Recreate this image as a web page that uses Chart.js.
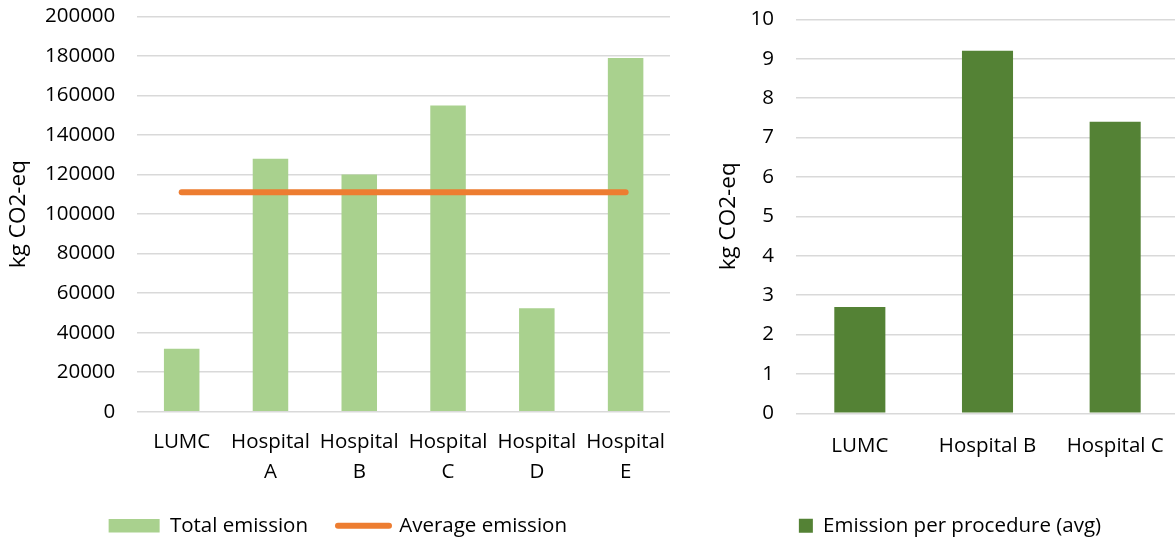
<!DOCTYPE html>
<html>
<head>
<meta charset="utf-8">
<script src="https://cdn.jsdelivr.net/npm/chart.js@4"></script>
<style>
  html, body { margin: 0; padding: 0; background: #fff; overflow: hidden; }
  body { width: 1175px; height: 540px; position: relative; }
  .box { position: absolute; top: 0; }
  #leftBox { left: 0; width: 676px; height: 546px; }
  #rightBox { left: 716px; width: 466px; height: 546px; }
</style>
</head>
<body>
<div class="box" id="leftBox"><canvas id="totalChart"></canvas></div>
<div class="box" id="rightBox"><canvas id="perProcChart"></canvas></div>
<script>
// Left chart: total emission per hospital with the average as a line
const hospitals = ['LUMC', ['Hospital', 'A'], ['Hospital', 'B'], ['Hospital', 'C'], ['Hospital', 'D'], ['Hospital', 'E']];
const totalEmission = [31800, 128000, 120000, 155000, 52400, 179000];
const averageEmission = [111000, 111000, 111000, 111000, 111000, 111000];
const totalTicks = { min: 0, max: 200000, step: 20000 };

// Right chart: emission per procedure
const procHospitals = ['LUMC', 'Hospital B', 'Hospital C'];
const perProcedure = [2.7, 9.2, 7.4];
const procTicks = { min: 0, max: 10, step: 1 };

const FONT = '"Open Sans", "DejaVu Sans", sans-serif';
const FS = 20.5;
const TITLE_FS = 22.5;
const GRID = '#d9d9d9';
const LIGHT_GREEN = '#a9d18e';
const ORANGE = '#ed7d31';
const DARK_GREEN = '#548235';

Chart.defaults.font.family = FONT;
Chart.defaults.font.size = FS;
Chart.defaults.color = '#000';
Chart.defaults.animation = false;

// Fixed box sizes keep both plot areas where they belong
function fixedHeight(v) {
  return function (scale) { scale.height = v; };
}
function fixedWidth(v, topGap) {
  return function (scale) {
    scale.width = v;
    scale.paddingTop = topGap;
    scale.paddingBottom = 0;
  };
}

new Chart(document.getElementById('totalChart'), {
  data: {
    labels: hospitals,
    datasets: [
      {
        type: 'line',
        label: 'Average emission',
        data: averageEmission,
        borderColor: ORANGE,
        backgroundColor: ORANGE,
        borderWidth: 6,
        borderCapStyle: 'round',
        pointRadius: 0,
        order: 0
      },
      {
        type: 'bar',
        label: 'Total emission',
        data: totalEmission,
        backgroundColor: LIGHT_GREEN,
        categoryPercentage: 1,
        barPercentage: 0.4,
        order: 1
      }
    ]
  },
  options: {
    responsive: true,
    maintainAspectRatio: false,
    layout: { padding: { top: 16.5, left: 5.6, right: 6, bottom: 0 } },
    scales: {
      x: {
        grid: { display: false },
        border: { display: false },
        ticks: { padding: 8, maxRotation: 0, autoSkip: false, font: { size: FS, lineHeight: 1.44 } },
        afterFit: fixedHeight(73.8)
      },
      y: {
        min: totalTicks.min,
        max: totalTicks.max,
        grid: { color: GRID, lineWidth: 1.5, drawTicks: false },
        border: { display: false },
        ticks: { stepSize: totalTicks.step, padding: 22, callback: v => String(v) },
        title: { display: true, text: 'kg CO2-eq', padding: { top: -0.2, bottom: 0 }, font: { size: TITLE_FS } },
        afterFit: fixedWidth(131.7, 16.5)
      }
    },
    plugins: {
      tooltip: { enabled: false },
      legend: {
        position: 'bottom',
        reverse: true,
        labels: {
          usePointStyle: true,
          pointStyleWidth: 51,
          boxHeight: 13.3,
          padding: 30,
          font: { size: FS },
          generateLabels(chart) {
            const items = Chart.defaults.plugins.legend.labels.generateLabels(chart);
            return items.map(it => {
              const ds = chart.data.datasets[it.datasetIndex];
              if (ds.type === 'line') {
                return Object.assign(it, { pointStyle: 'line', lineWidth: 6, lineCap: 'round', strokeStyle: ORANGE });
              }
              return Object.assign(it, { pointStyle: 'rect', lineWidth: 0, fillStyle: LIGHT_GREEN });
            });
          }
        }
      }
    }
  }
});

new Chart(document.getElementById('perProcChart'), {
  type: 'bar',
  data: {
    labels: procHospitals,
    datasets: [
      {
        label: 'Emission per procedure (avg)',
        data: perProcedure,
        backgroundColor: DARK_GREEN,
        categoryPercentage: 1,
        barPercentage: 0.4
      }
    ]
  },
  options: {
    responsive: true,
    maintainAspectRatio: false,
    layout: { padding: { top: 19.3, left: 5, right: 3, bottom: 0 } },
    scales: {
      x: {
        grid: { display: false },
        border: { display: false },
        ticks: { padding: 10, maxRotation: 0, autoSkip: false, font: { size: FS, lineHeight: 1.44 } },
        afterFit: fixedHeight(72.2)
      },
      y: {
        min: procTicks.min,
        max: procTicks.max,
        grid: { color: GRID, lineWidth: 1.5, drawTicks: false },
        border: { display: false },
        ticks: { stepSize: procTicks.step, padding: 22 },
        title: { display: true, text: 'kg CO2-eq', padding: { top: -5.5, bottom: 0 }, font: { size: TITLE_FS } },
        afterFit: fixedWidth(75, 19.3)
      }
    },
    plugins: {
      tooltip: { enabled: false },
      legend: {
        position: 'bottom',
        labels: {
          boxWidth: 14,
          boxHeight: 14,
          padding: 30,
          font: { size: FS }
        }
      }
    }
  }
});
</script>
</body>
</html>
